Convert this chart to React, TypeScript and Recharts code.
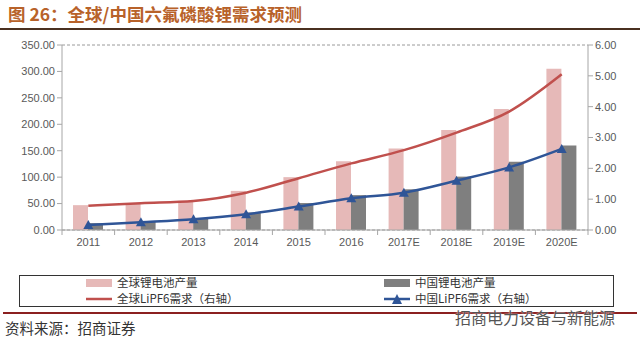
import React from 'react';
import {
  ComposedChart,
  Bar,
  Line,
  XAxis,
  YAxis,
  CartesianGrid,
} from 'recharts';

// 年份 / 类目
const years = ['2011', '2012', '2013', '2014', '2015', '2016', '2017E', '2018E', '2019E', '2020E'];
// 锂电池产量（左轴）
const globalBattery = [47, 51, 55, 74, 100, 130, 154, 189, 229, 305];
const chinaBattery = [13, 16, 22, 33, 51, 66, 77, 101, 129, 160];
// LiPF6 需求（右轴）
const globalLipf6 = [0.79, 0.87, 0.94, 1.21, 1.68, 2.16, 2.59, 3.16, 3.84, 5.05];
const chinaLipf6 = [0.16, 0.25, 0.35, 0.51, 0.76, 1.03, 1.21, 1.6, 2.03, 2.63];
const leftTicks = [0, 50, 100, 150, 200, 250, 300, 350];
const rightTicks = [0, 1, 2, 3, 4, 5, 6];

const data = years.map((name, i) => ({
  name,
  globalBattery: globalBattery[i],
  chinaBattery: chinaBattery[i],
  globalLipf6: globalLipf6[i],
  chinaLipf6: chinaLipf6[i],
}));

const COLORS = {
  pink: '#e6b9b8',
  gray: '#7f7f7f',
  red: '#c0504d',
  blue: '#2f5597',
  axis: '#a6a6a6',
  text: '#595959',
};

const tickFont = { fontFamily: '"Liberation Sans", Arial, sans-serif', fontSize: 11, fill: COLORS.text };

// x 轴刻度：标签居中，刻度线画在类目之间
const XTick = (props: any) => {
  const { x, y, payload, index, width, visibleTicksCount } = props;
  const half = payload?.offset || (width && visibleTicksCount ? width / visibleTicksCount / 2 : 26);
  const axisY = y - 8;
  const isLast = visibleTicksCount ? index === visibleTicksCount - 1 : false;
  return (
    <g>
      <line x1={x - half} x2={x - half} y1={axisY} y2={axisY + 5} stroke={COLORS.axis} />
      {isLast && <line x1={x + half} x2={x + half} y1={axisY} y2={axisY + 5} stroke={COLORS.axis} />}
      <text x={x} y={y} dy="0.75em" textAnchor="middle" {...tickFont}>
        {payload.value}
      </text>
    </g>
  );
};

const TriangleDot = (props: any) => {
  const { cx, cy, index } = props;
  if (cx == null || cy == null) return null;
  const s = 5;
  return (
    <polygon
      key={`tri-${index}`}
      points={`${cx},${cy - s} ${cx - s},${cy + s - 1} ${cx + s},${cy + s - 1}`}
      fill={COLORS.blue}
    />
  );
};

const cjk = '"Noto Sans CJK SC", "Noto Sans", sans-serif';

const legendItems = [
  { label: '全球锂电池产量', kind: 'bar', color: COLORS.pink, left: 86, top: 276 },
  { label: '全球LiPF6需求（右轴）', kind: 'line', color: COLORS.red, left: 86, top: 292 },
  { label: '中国锂电池产量', kind: 'bar', color: COLORS.gray, left: 384, top: 276 },
  { label: '中国LiPF6需求（右轴）', kind: 'tri', color: COLORS.blue, left: 384, top: 292 },
];

const LegendSwatch = ({ kind, color }: { kind: string; color: string }) => (
  <svg width={26} height={12} style={{ marginRight: 5 }}>
    {kind === 'bar' && <rect x={0} y={2} width={26} height={8} fill={color} />}
    {kind === 'line' && <line x1={0} x2={26} y1={6} y2={6} stroke={color} strokeWidth={2.5} />}
    {kind === 'tri' && (
      <g>
        <line x1={0} x2={26} y1={6} y2={6} stroke={color} strokeWidth={2.5} />
        <polygon points="13,1 8,11 18,11" fill={color} />
      </g>
    )}
  </svg>
);

export default function App() {
  return (
    <div style={{ position: 'absolute', left: 0, top: 0, width: 640, height: 342, background: '#fff', overflow: 'hidden' }}>
      <div
        style={{
          position: 'absolute',
          left: 8,
          top: 3,
          fontFamily: cjk,
          fontWeight: 700,
          fontSize: 17.5,
          lineHeight: '22px',
          color: '#b8622a',
          whiteSpace: 'nowrap',
        }}
      >
        图 26：全球/中国六氟磷酸锂需求预测
      </div>
      <div style={{ position: 'absolute', left: 0, top: 28, width: 640, height: 2, background: '#4a3020' }} />

      <div style={{ position: 'absolute', left: 0, top: 0 }}>
        <ComposedChart
          width={640}
          height={260}
          data={data}
          margin={{ top: 45, right: 0, bottom: 0, left: 0 }}
          barGap={0}
          barSize={15}
        >
          <CartesianGrid vertical={false} stroke="#9a9a9a" strokeDasharray="3 2" />
          <XAxis
            dataKey="name"
            height={30}
            stroke={COLORS.axis}
            tickLine={false}
            tickSize={5}
            tickMargin={3}
            interval={0}
            tick={<XTick />}
          />
          <YAxis
            yAxisId="left"
            width={62}
            domain={[0, 350]}
            ticks={leftTicks}
            tickFormatter={(v: number) => v.toFixed(2)}
            stroke={COLORS.axis}
            tickSize={5}
            tick={tickFont}
          />
          <YAxis
            yAxisId="right"
            orientation="right"
            width={52}
            domain={[0, 6]}
            ticks={rightTicks}
            tickFormatter={(v: number) => v.toFixed(2)}
            stroke={COLORS.axis}
            tickSize={5}
            tick={tickFont}
          />
          <Bar yAxisId="left" dataKey="globalBattery" name="全球锂电池产量" fill={COLORS.pink} isAnimationActive={false} />
          <Bar yAxisId="left" dataKey="chinaBattery" name="中国锂电池产量" fill={COLORS.gray} isAnimationActive={false} />
          <Line
            yAxisId="right"
            type="monotone"
            dataKey="globalLipf6"
            name="全球LiPF6需求（右轴）"
            stroke={COLORS.red}
            strokeWidth={2.5}
            dot={false}
            isAnimationActive={false}
          />
          <Line
            yAxisId="right"
            type="monotone"
            dataKey="chinaLipf6"
            name="中国LiPF6需求（右轴）"
            stroke={COLORS.blue}
            strokeWidth={2.5}
            dot={<TriangleDot />}
            isAnimationActive={false}
          />
        </ComposedChart>
      </div>

      <div
        style={{
          position: 'absolute',
          left: 19,
          top: 275,
          width: 595,
          height: 32,
          border: '1px solid #333',
          boxSizing: 'border-box',
        }}
      />
      {legendItems.map((it) => (
        <div
          key={it.label}
          style={{
            position: 'absolute',
            left: it.left,
            top: it.top,
            height: 13,
            display: 'flex',
            alignItems: 'center',
            fontFamily: cjk,
            fontSize: 11.5,
            lineHeight: '13px',
            color: '#333',
            whiteSpace: 'nowrap',
          }}
        >
          <LegendSwatch kind={it.kind} color={it.color} />
          {it.label}
        </div>
      ))}

      <div style={{ position: 'absolute', left: 3, top: 312, width: 634, height: 1.5, background: '#8b2020' }} />
      <div
        style={{
          position: 'absolute',
          left: 5,
          top: 317,
          fontFamily: cjk,
          fontSize: 14.5,
          color: '#333',
          whiteSpace: 'nowrap',
        }}
      >
        资料来源：招商证券
      </div>
      <div
        style={{
          position: 'absolute',
          left: 455,
          top: 309,
          fontFamily: cjk,
          fontSize: 16,
          lineHeight: '16px',
          color: '#555',
          whiteSpace: 'nowrap',
          textShadow: '0 0 2px #fff',
        }}
      >
        招商电力设备与新能源
      </div>
    </div>
  );
}
